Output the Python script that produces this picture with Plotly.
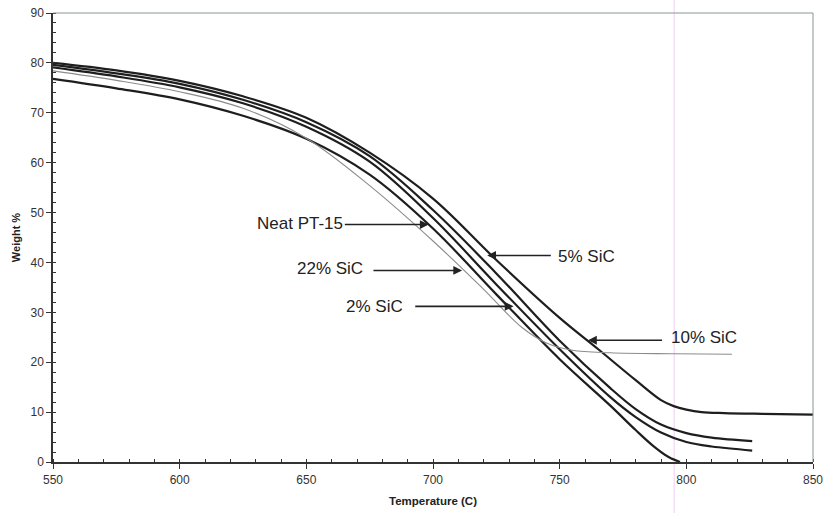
import plotly.graph_objects as go

# ---- data ----
temp_neat = [550, 575, 600, 625, 650, 675, 700, 725, 750, 770, 780, 787, 793, 797.5]
wt_neat = [76.8, 74.9, 72.7, 69.4, 64.8, 57.6, 46.8, 33.6, 20.6, 11.3, 6.4, 3.2, 1.0, 0.0]

temp_2 = [550, 575, 600, 625, 650, 675, 700, 725, 750, 770, 780, 790, 800, 810, 826]
wt_2 = [79.1, 77.3, 75.1, 71.9, 67.2, 60.2, 48.9, 35.6, 22.6, 13.0, 9.0, 5.9, 4.0, 3.1, 2.3]

temp_5 = [550, 575, 600, 625, 650, 675, 700, 725, 750, 770, 780, 790, 800, 810, 826]
wt_5 = [79.6, 77.9, 75.8, 72.6, 68.1, 61.3, 50.5, 37.8, 24.3, 14.8, 10.6, 7.5, 5.8, 4.9, 4.2]

temp_10 = [550, 575, 600, 625, 650, 675, 700, 725, 750, 765, 780, 790, 795, 800, 806, 815, 830, 850]
wt_10 = [80.0, 78.5, 76.4, 73.3, 69.0, 62.0, 52.8, 40.5, 28.9, 22.7, 16.4, 12.4, 11.2, 10.5, 10.0, 9.8, 9.65, 9.5]

temp_22 = [550, 575, 600, 625, 650, 675, 700, 720, 735, 745, 755, 770, 795, 818]
wt_22 = [78.4, 76.5, 74.2, 70.9, 64.9, 55.4, 44.3, 34.6, 27.0, 23.8, 22.4, 21.9, 21.7, 21.6]

x_ticks = [550, 600, 650, 700, 750, 800, 850]
y_ticks = [0, 10, 20, 30, 40, 50, 60, 70, 80, 90]

# label text, text centre (x, y), arrow tail (x, y), arrow head (x, y)
labels = ["Neat PT-15", "22% SiC", "2% SiC", "5% SiC", "10% SiC"]
label_x = [647.4, 659.5, 677.1, 760.5, 806.9]
label_y = [47.8, 38.8, 31.2, 41.2, 24.9]
tail_x = [664.6, 675.9, 692.4, 747.1, 791.0]
tail_y = [47.6, 38.4, 31.2, 41.4, 24.4]
head_x = [698.3, 711.5, 731.8, 721.4, 761.2]
head_y = [47.6, 38.4, 31.2, 41.4, 24.4]

fig = go.Figure()

line_black = dict(color="#1e1e1e", width=2.2, shape="spline", smoothing=1.0)
for tx, wy in [(temp_neat, wt_neat), (temp_2, wt_2), (temp_5, wt_5), (temp_10, wt_10)]:
    fig.add_trace(go.Scatter(x=tx, y=wy, mode="lines", line=line_black,
                             showlegend=False, hoverinfo="skip"))
fig.add_trace(go.Scatter(x=temp_22, y=wt_22, mode="lines",
                         line=dict(color="#8c8c8c", width=1.1, shape="spline", smoothing=1.0),
                         showlegend=False, hoverinfo="skip"))

for i, t in enumerate(labels):
    fig.add_annotation(x=label_x[i], y=label_y[i], text=t, showarrow=False,
                       font=dict(family="Liberation Sans, Arial", size=17, color="#222"))
    fig.add_annotation(x=head_x[i], y=head_y[i], ax=tail_x[i], ay=tail_y[i],
                       xref="x", yref="y", axref="x", ayref="y", text="",
                       showarrow=True, arrowhead=2, arrowsize=1.1, arrowwidth=1.6,
                       arrowcolor="#222", standoff=0)

# top and right frame lines (grey), scan artefact line
fig.add_shape(type="line", xref="paper", yref="paper", x0=0, x1=1, y0=1, y1=1,
              line=dict(color="#8a9696", width=1))
fig.add_shape(type="line", xref="paper", yref="paper", x0=1, x1=1, y0=0, y1=1,
              line=dict(color="#8a9696", width=1))
fig.add_shape(type="line", xref="x", yref="paper", x0=795.2, x1=795.2, y0=-0.12, y1=1.03,
              line=dict(color="#f3cdf3", width=1), layer="below")

fig.update_xaxes(range=[550, 850], tickvals=x_ticks, ticktext=[str(v) for v in x_ticks],
                 automargin=False,
                 showgrid=False, zeroline=False, showline=True, linecolor="#333", linewidth=1.5,
                 ticks="outside", ticklen=5, tickwidth=1.2, tickcolor="#333",
                 minor=dict(dtick=10, ticks="inside", ticklen=3, tickcolor="#333", tickwidth=1),
                 tickfont=dict(family="Liberation Sans, Arial", size=12, color="#333"),
                 ticklabelstandoff=1,
                 title=dict(text="<b>Temperature (C)</b>", standoff=11,
                            font=dict(family="Liberation Sans, Arial", size=11.5, color="#222")))
fig.update_yaxes(range=[0, 90], tickvals=y_ticks, ticktext=[str(v) for v in y_ticks],
                 automargin=False,
                 showgrid=False, zeroline=False, showline=True, linecolor="#333", linewidth=1.5,
                 ticks="outside", ticklen=5, tickwidth=1.2, tickcolor="#333",
                 minor=dict(dtick=2, ticks="inside", ticklen=3, tickcolor="#333", tickwidth=1),
                 tickfont=dict(family="Liberation Sans, Arial", size=12, color="#333"),
                 title=dict(text="<b>Weight %</b>", standoff=8,
                            font=dict(family="Liberation Sans, Arial", size=11, color="#222")))

fig.update_layout(width=824, height=513, margin=dict(l=53, r=11, t=13, b=51),
                  paper_bgcolor="white", plot_bgcolor="white")

fig.write_html("out.html", config={"displayModeBar": False},
               post_script="document.body.style.margin='0';document.body.style.overflow='hidden';")
